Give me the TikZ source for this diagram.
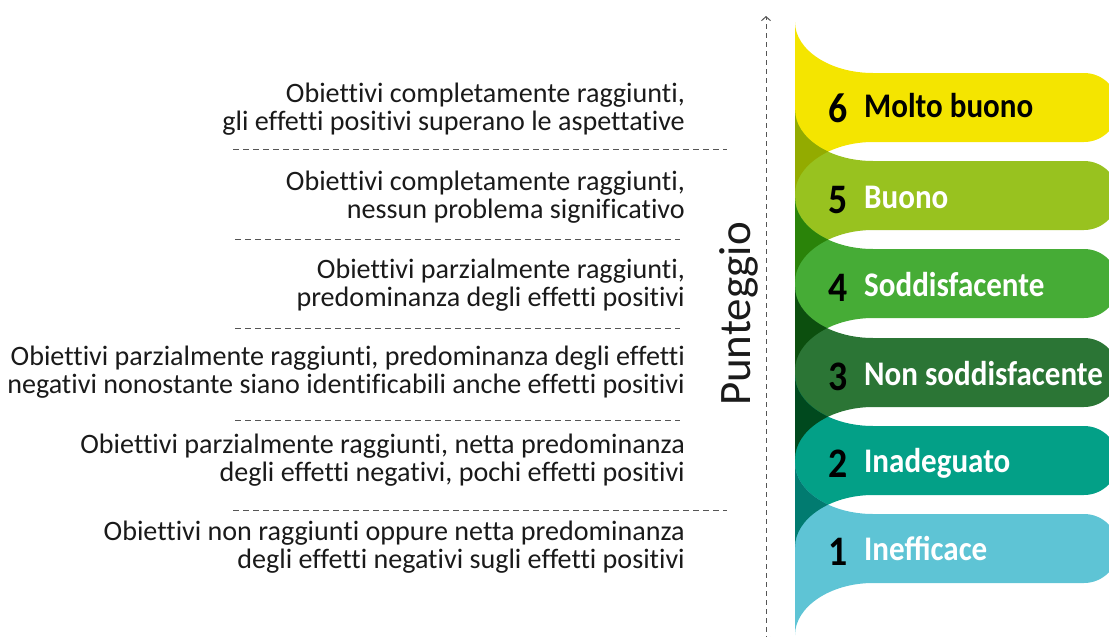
\documentclass[tikz,border=0pt]{standalone}
\usepackage{fontspec}
\setmainfont{Carlito}
\newfontfamily\bodyfont[Ligatures=NoCommon]{Carlito}
\newfontfamily\labfont[FakeStretch=0.9]{Carlito}
\usetikzlibrary{arrows.meta}
\definecolor{c6}{HTML}{F4E500}
\definecolor{c5}{HTML}{98C21F}
\definecolor{c4}{HTML}{46AC36}
\definecolor{c3}{HTML}{2B7535}
\definecolor{c2}{HTML}{03A087}
\definecolor{c1}{HTML}{5EC4D5}
\definecolor{o65}{HTML}{93AB00}
\definecolor{o54}{HTML}{2A8309}
\definecolor{o43}{HTML}{0C4F0E}
\definecolor{o32}{HTML}{00491E}
\definecolor{o21}{HTML}{017B70}
\definecolor{txt}{HTML}{1A1A1A}
\definecolor{dashc}{HTML}{555555}
\newcommand\bandshape[1]{(795,{#1-51}) .. controls (795,{#1-23}) and (830,{#1}) .. (873,{#1}) -- (1084,{#1}) .. controls (1103,{#1}) and (1118.5,{#1+15.5}) .. (1118.5,{#1+34.5}) .. controls (1118.5,{#1+53.5}) and (1103,{#1+69}) .. (1084,{#1+69}) -- (873,{#1+69}) .. controls (830,{#1+69}) and (795,{#1+93}) .. (795,{#1+121}) -- cycle}
\begin{document}
\begin{tikzpicture}[x=1pt,y=-1pt,
  desc/.style={anchor=east,align=right,inner sep=0pt,text=txt,font=\bodyfont\fontsize{28.1}{28}\selectfont},
  sepline/.style={dashc,line width=0.9pt,dash pattern=on 6pt off 4pt},
  axisline/.style={dashc,line width=1pt,dash pattern=on 5pt off 4pt},
  num/.style={anchor=base,inner sep=0pt,text=black,font=\labfont\bfseries\fontsize{42}{42}\selectfont},
  lab/.style={anchor=base west,inner sep=0pt,text=white,font=\labfont\bfseries\fontsize{34.5}{34.5}\selectfont}]
\useasboundingbox (0,0) rectangle (1109,637);
\clip (0,0) rectangle (1109,637);
% bands
\fill[c6] \bandshape{73};
\fill[c5] \bandshape{161};
\fill[c4] \bandshape{249};
\fill[c3] \bandshape{338};
\fill[c2] \bandshape{426};
\fill[c1] \bandshape{514};
% overlaps
\begin{scope}\clip \bandshape{73}; \fill[o65] \bandshape{161};\end{scope}
\begin{scope}\clip \bandshape{161}; \fill[o54] \bandshape{249};\end{scope}
\begin{scope}\clip \bandshape{249}; \fill[o43] \bandshape{338};\end{scope}
\begin{scope}\clip \bandshape{338}; \fill[o32] \bandshape{426};\end{scope}
\begin{scope}\clip \bandshape{426}; \fill[o21] \bandshape{514};\end{scope}
% band labels
\node[num] (n6) at (838,122) {6};
\node[lab,text=black] (l6) at (864,117) {Molto buono};
\node[num] (n5) at (838,213) {5};
\node[lab] (l5) at (864,208) {Buono};
\node[num] (n4) at (838,301) {4};
\node[lab] (l4) at (864,296) {Soddisfacente};
\node[num] (n3) at (838,390) {3};
\node[lab] (l3) at (864,385) {Non soddisfacente};
\node[num] (n2) at (838,477) {2};
\node[lab] (l2) at (864,472) {Inadeguato};
\node[num] (n1) at (838,565) {1};
\node[lab] (l1) at (864,560) {Inefficace};
% axis
\coordinate (atop) at (766,16);
\coordinate (abot) at (766,642);
\draw[axisline,{Straight Barb[length=4pt,width=9pt]}-{Straight Barb[length=4pt,width=9pt]}] (abot) -- (atop);
\node[rotate=90,anchor=base,inner sep=0pt,text=txt,font=\bodyfont\fontsize{45}{45}\selectfont] (pt) at (750,314) {Punteggio};
% descriptions
\node[desc] (d6) at (685,109) {Obiettivi completamente raggiunti,\\gli effetti positivi superano le aspettative};
\node[desc] (d5) at (685,197) {Obiettivi completamente raggiunti,\\nessun problema significativo};
\node[desc] (d4) at (685,285) {Obiettivi parzialmente raggiunti,\\predominanza degli effetti positivi};
\node[desc] (d3) at (685,372) {Obiettivi parzialmente raggiunti, predominanza degli effetti\\negativi nonostante siano identificabili anche effetti positivi};
\node[desc] (d2) at (685,460) {Obiettivi parzialmente raggiunti, netta predominanza\\degli effetti negativi, pochi effetti positivi};
\node[desc] (d1) at (685,547) {Obiettivi non raggiunti oppure netta predominanza\\degli effetti negativi sugli effetti positivi};
% separators
\draw[sepline] (233,149) -- (727,149);
\draw[sepline] (235,239) -- (680,239);
\draw[sepline] (235,328) -- (680,328);
\draw[sepline] (235,420) -- (680,420);
\draw[sepline] (233,510) -- (727,510);
\end{tikzpicture}
\end{document}
